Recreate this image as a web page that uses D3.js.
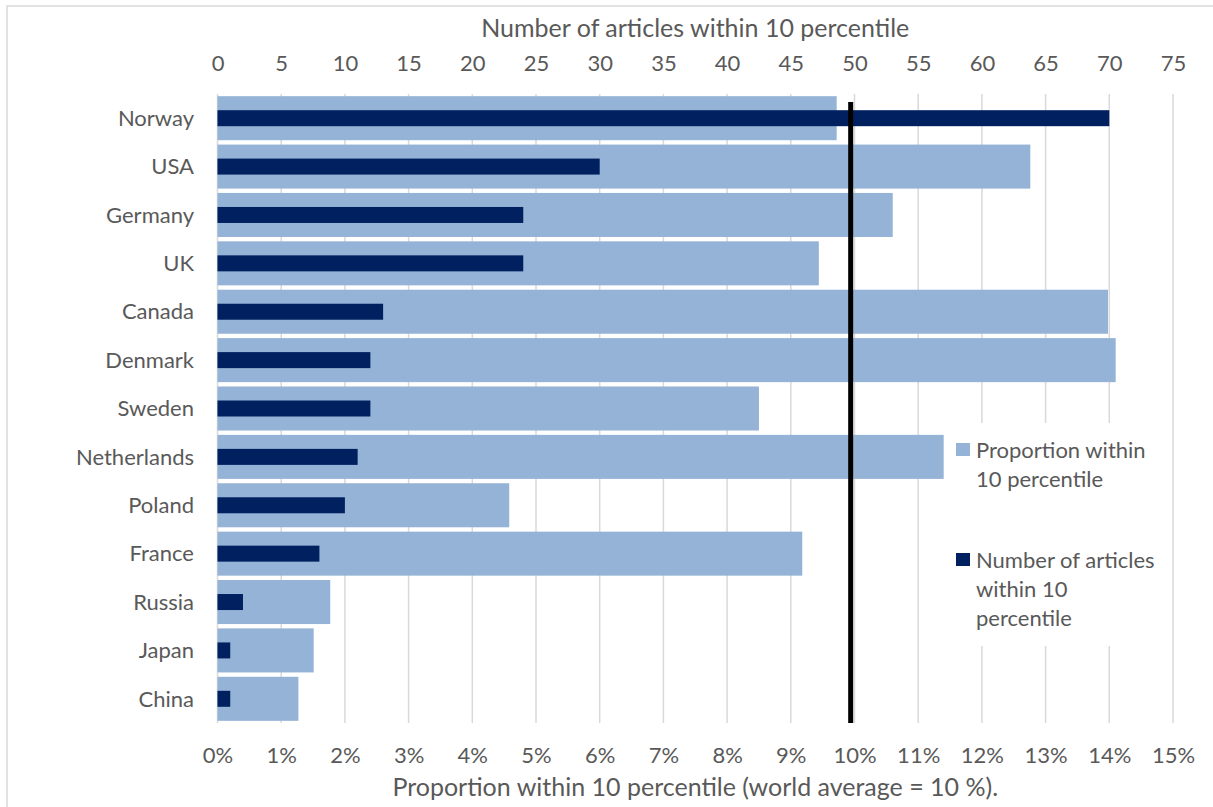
<!DOCTYPE html>
<html><head><meta charset="utf-8">
<script src="https://cdn.jsdelivr.net/npm/d3@7"></script>
<style>
html,body{margin:0;padding:0;background:#fff;}
text{font-family:Lato,"Open Sans",sans-serif;fill:#595959;}
</style></head>
<body>
<svg id="chart" width="1213" height="807"></svg>
<script>
const countries = ["Norway","USA","Germany","UK","Canada","Denmark","Sweden","Netherlands","Poland","France","Russia","Japan","China"];
const proportion = [9.72, 12.76, 10.60, 9.44, 13.98, 14.10, 8.50, 11.40, 4.58, 9.18, 1.77, 1.51, 1.27];
const articles = [70, 30, 24, 24, 13, 12, 12, 11, 10, 8, 2, 1, 1];
const worldAverage = [9.94];
const topTicks = [0,5,10,15,20,25,30,35,40,45,50,55,60,65,70,75];
const bottomTicks = [0,1,2,3,4,5,6,7,8,9,10,11,12,13,14,15];
const topTitle = "Number of articles within 10 percentile";
const bottomTitle = "Proportion within 10 percentile (world average = 10 %).";
const legendLabels = [["Proportion within","10 percentile"],["Number of articles","within 10","percentile"]];

const W = 1213, H = 807;
const L = 217.5, R = 1173, T = 94, B = 723;
const LIGHT = "#95b3d7", DARK = "#002060", GRID = "#d9d9d9";
const FS = 22, TFS = 25;

const svg = d3.select("#chart");
// outer border
svg.append("rect").attr("x",7).attr("y",6).attr("width",W+10).attr("height",H+10)
  .attr("fill","#fff").attr("stroke","#d9d9d9").attr("stroke-width",1.5);

const xP = d3.scaleLinear().domain([0,15]).range([L,R]);
const xN = d3.scaleLinear().domain([0,75]).range([L,R]);
const y = d3.scaleBand().domain(countries).range([T,B]).paddingInner(0.09).paddingOuter(0.045);

// gridlines
svg.append("g").selectAll("line").data(bottomTicks).join("line")
  .attr("x1",d=>xP(d)).attr("x2",d=>xP(d)).attr("y1",T).attr("y2",B)
  .attr("stroke",GRID).attr("stroke-width",1.5);

// light bars
svg.append("g").selectAll("rect").data(countries).join("rect")
  .attr("x",xP(0)).attr("y",d=>y(d)).attr("height",y.bandwidth())
  .attr("width",(d,i)=>xP(proportion[i])-xP(0)).attr("fill",LIGHT);

// dark bars
const dh = 16;
svg.append("g").selectAll("rect").data(countries).join("rect")
  .attr("x",xN(0)).attr("y",d=>y(d)+y.bandwidth()/2-dh/2).attr("height",dh)
  .attr("width",(d,i)=>xN(articles[i])-xN(0)).attr("fill",DARK);

// world average line
svg.append("g").selectAll("line").data(worldAverage).join("line")
  .attr("x1",d=>xP(d)).attr("x2",d=>xP(d)).attr("y1",102).attr("y2",B)
  .attr("stroke","#000").attr("stroke-width",5);

// top axis
const topAxis = d3.axisTop(xN).tickValues(topTicks).tickSize(0).tickPadding(0);
const gt = svg.append("g").attr("transform",`translate(0,71)`).call(topAxis);
gt.select(".domain").remove();
gt.selectAll("text").attr("font-size",FS).attr("dy",0).style("font-family","Lato").attr("fill","#595959");

// bottom axis
const botAxis = d3.axisBottom(xP).tickValues(bottomTicks).tickFormat(d=>d+"%").tickSize(0).tickPadding(0);
const gb = svg.append("g").attr("transform",`translate(0,763)`).call(botAxis);
gb.select(".domain").remove();
gb.selectAll("text").attr("font-size",FS).attr("dy",0).style("font-family","Lato").attr("fill","#595959");

// category labels
const leftAxis = d3.axisLeft(y).tickSize(0).tickPadding(0);
const gl = svg.append("g").attr("transform",`translate(194,0)`).call(leftAxis);
gl.select(".domain").remove();
gl.selectAll("text").attr("font-size",FS).attr("dy","0.35em").style("font-family","Lato").attr("fill","#595959");

// titles
svg.append("text").attr("x",(L+R)/2).attr("y",37).attr("text-anchor","middle").attr("font-size",TFS).text(topTitle);
svg.append("text").attr("x",(L+R)/2).attr("y",796).attr("text-anchor","middle").attr("font-size",TFS).text(bottomTitle);

// legend
svg.append("rect").attr("x",948).attr("y",423).attr("width",222).attr("height",223).attr("fill","#fff");
const legendColors = [LIGHT, DARK];
const legendTop = [450, 560];
const lg = svg.append("g").selectAll("g").data(legendLabels).join("g")
  .attr("transform",(d,i)=>`translate(956,${legendTop[i]})`);
lg.append("rect").attr("x",0).attr("y",-7).attr("width",14).attr("height",13).attr("fill",(d,i)=>legendColors[i]);
lg.each(function(lines){
  const g = d3.select(this);
  lines.forEach((t,j)=>{
    g.append("text").attr("x",20).attr("y",j*29).attr("dy","0.35em").attr("font-size",FS).text(t);
  });
});
</script>
</body></html>
